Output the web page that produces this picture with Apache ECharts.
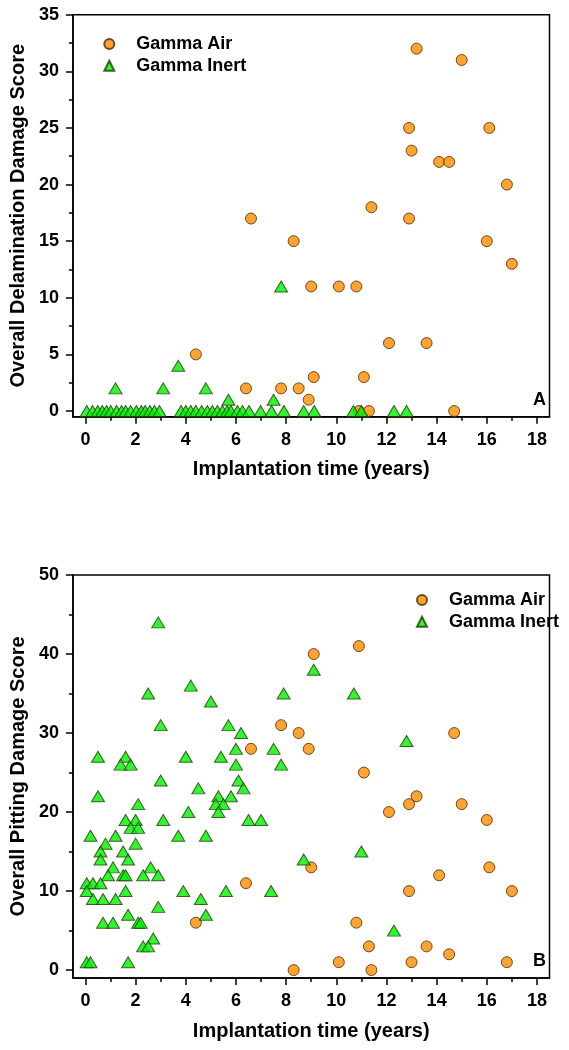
<!DOCTYPE html>
<html><head><meta charset="utf-8">
<script src="https://cdn.jsdelivr.net/npm/echarts@6/dist/echarts.min.js"></script>
<style>html,body{margin:0;padding:0;background:#fff}#c{width:569px;height:1050px}</style>
</head><body><div id="c"></div>
<script>
// ---- tick labels ----
const xTicks = [0, 2, 4, 6, 8, 10, 12, 14, 16, 18];
const xMinorTicks = [1, 3, 5, 7, 9, 11, 13, 15, 17];
const yTicksA = [0, 5, 10, 15, 20, 25, 30, 35];
const yMinorA = [2.5, 7.5, 12.5, 17.5, 22.5, 27.5, 32.5];
const yTicksB = [0, 10, 20, 30, 40, 50];
const yMinorB = [5, 15, 25, 35, 45];
const seriesNames = ['Gamma Air', 'Gamma Inert'];

// ---- Panel A: Overall Delamination Damage Score ----
const delamAir = [
  [4.4,5],[6.4,2],[6.6,17],[7.8,2],[8.3,15],[8.5,2],[8.9,1],[9.0,11],[9.1,3],
  [10.1,11],[10.8,11],[10.9,0],[11.1,3],[11.3,0],[11.4,18],[12.1,6],[12.9,17],
  [12.9,25],[13.0,23],[13.2,32],[13.6,6],[14.1,22],[14.5,22],[14.7,0],[15.0,31],
  [16.0,15],[16.1,25],[16.8,20],[17.0,13]
];
const delamInert = [
  [0.05,0],[0.28,0],[0.49,0],[0.67,0],[0.84,0],[1.01,0],[1.24,0],[1.44,0],[1.6,0],
  [1.8,0],[2.03,0],[2.23,0],[2.38,0],[2.57,0],[2.75,0],[2.95,0],
  [3.81,0],[4.0,0],[4.2,0],[4.4,0],[4.63,0],[4.86,0],[5.06,0],[5.26,0],[5.46,0],
  [5.65,0],[5.8,0],[6.06,0],[6.26,0],[6.52,0],[6.98,0],[7.42,0],[7.91,0],[8.7,0],
  [9.12,0],[10.68,0],[11.0,0],[12.3,0],[12.8,0],
  [1.2,2],[3.1,2],[3.7,4],[4.8,2],[5.7,1],[7.5,1],[7.8,11]
];

// ---- Panel B: Overall Pitting Damage Score ----
const pitAir = [
  [9.1,40],[10.9,41],[7.8,31],[8.5,30],[14.7,30],[6.6,28],[8.9,28],[11.1,25],
  [13.2,22],[12.9,21],[15.0,21],[12.1,20],[16.0,19],[9.0,13],[16.1,13],[14.1,12],
  [6.4,11],[12.9,10],[17.0,10],[4.4,6],[10.8,6],[11.3,3],[13.6,3],[14.5,2],
  [10.1,1],[13.0,1],[16.8,1],[8.3,0],[11.4,0]
];
const pitInert = [
  [2.9,44],[4.2,36],[2.5,35],[5.0,34],[7.9,35],[9.1,38],[10.7,35],[3.0,31],[5.7,31],
  [6.2,30],[12.8,29],[0.5,27],[1.6,27],[1.4,26],[1.8,26],[4.0,27],[5.4,27],[6.0,28],
  [7.5,28],[6.0,26],[7.8,26],[3.0,24],[6.1,24],[4.5,23],[6.3,23],[0.5,22],[5.3,22],
  [5.8,22],[2.1,21],[5.2,21],[5.5,21],[4.1,20],[5.3,20],[1.6,19],[2.0,19],[3.1,19],
  [6.5,19],[7.0,19],[1.8,18],[2.1,18],[0.2,17],[1.2,17],[3.7,17],[4.8,17],[0.8,16],
  [2.0,16],[0.6,15],[1.5,15],[11.0,15],[0.6,14],[1.7,14],[8.7,14],[1.1,13],[2.6,13],
  [0.9,12],[1.5,12],[1.6,12],[2.3,12],[2.9,12],[0.05,11],[0.3,11],[0.6,11],[0.05,10],
  [1.6,10],[3.9,10],[5.6,10],[7.4,10],[0.3,9],[0.7,9],[1.2,9],[4.6,9],[2.9,8],[1.7,7],
  [4.8,7],[0.7,6],[1.1,6],[2.1,6],[2.2,6],[2.7,4],[2.3,3],[2.5,3],[12.3,5],[0.05,1],
  [0.2,1],[1.7,1]
];

const FONT = "'Liberation Sans', Arial, sans-serif";
const XMIN = -0.5, XMAX = 18.5;

function xAxes(gridIndex) {
  return [
    { type: 'value', gridIndex, min: XMIN, max: XMAX, position: 'bottom',
      axisLine: { show: true, onZero: false, lineStyle: { color: '#000', width: 1.5 } },
      axisTick: { show: true, length: 7, customValues: xTicks, lineStyle: { color: '#000', width: 1.5 } },
      axisLabel: { customValues: xTicks, margin: 14, fontSize: 18, fontWeight: 'bold', color: '#000', fontFamily: FONT },
      splitLine: { show: false },
      name: 'Implantation time (years)', nameLocation: 'middle', nameGap: 43,
      nameTextStyle: { fontSize: 20, fontWeight: 'bold', color: '#000', fontFamily: FONT } },
    { type: 'value', gridIndex, min: XMIN, max: XMAX, position: 'bottom',
      axisLine: { show: false, onZero: false },
      axisTick: { show: true, length: 4, customValues: xMinorTicks, lineStyle: { color: '#000', width: 1.5 } },
      axisLabel: { show: false }, splitLine: { show: false } }
  ];
}
function yAxes(gridIndex, min, max, ticks, minor, name) {
  return [
    { type: 'value', gridIndex, min, max, position: 'left',
      axisLine: { show: true, onZero: false, lineStyle: { color: '#000', width: 1.5 } },
      axisTick: { show: true, length: 7, customValues: ticks, lineStyle: { color: '#000', width: 1.5 } },
      axisLabel: { customValues: ticks, margin: 14, fontSize: 18, fontWeight: 'bold', color: '#000', fontFamily: FONT },
      splitLine: { show: false },
      name, nameLocation: 'middle', nameGap: 44,
      nameTextStyle: { fontSize: 20, fontWeight: 'bold', color: '#000', fontFamily: FONT } },
    { type: 'value', gridIndex, min, max, position: 'left',
      axisLine: { show: false, onZero: false },
      axisTick: { show: true, length: 4, customValues: minor, lineStyle: { color: '#000', width: 1.5 } },
      axisLabel: { show: false }, splitLine: { show: false } }
  ];
}

const airStyle = { color: '#FF8C00', borderColor: '#4a2a00', borderWidth: 1 };
const inertStyle = { color: '#00F000', borderColor: '#1f3f00', borderWidth: 1 };

function airSeries(data, xi, yi) {
  return { name: seriesNames[0], type: 'scatter', xAxisIndex: xi, yAxisIndex: yi, data,
    symbol: 'circle', symbolSize: 11, itemStyle: airStyle, z: 2 };
}
function inertSeries(data, xi, yi) {
  return { name: seriesNames[1], type: 'scatter', xAxisIndex: xi, yAxisIndex: yi, data,
    symbol: 'triangle', symbolSize: [13, 11], itemStyle: inertStyle, z: 3 };
}

const legendText = { fontSize: 18, fontWeight: 'bold', color: '#000', fontFamily: FONT, lineHeight: 18, padding: [0, 0, 0, 17] };

const option = {
  animation: false,
  backgroundColor: '#fff',
  grid: [
    { left: 69, top: 14.7, width: 480.5, height: 402, show: true, borderColor: '#000', borderWidth: 1.5, containLabel: false },
    { left: 69, top: 575, width: 480.5, height: 403, show: true, borderColor: '#000', borderWidth: 1.5, containLabel: false }
  ],
  xAxis: [...xAxes(0), ...xAxes(1)],
  yAxis: [
    ...yAxes(0, -0.5, 35, yTicksA, yMinorA, 'Overall Delamination Damage Score'),
    ...yAxes(1, -1, 50, yTicksB, yMinorB, 'Overall Pitting Damage Score')
  ],
  legend: [
    { data: seriesNames, left: 98.3, top: 30, orient: 'vertical', itemWidth: 10, itemHeight: 10, itemGap: 3.7,
      textStyle: legendText, selectedMode: false },
    { data: seriesNames, left: 411, top: 586, orient: 'vertical', itemWidth: 10, itemHeight: 10, itemGap: 3.7,
      textStyle: legendText, selectedMode: false }
  ],
  series: [
    airSeries(delamAir, 0, 0),
    inertSeries(delamInert, 0, 0),
    airSeries(pitAir, 2, 2),
    inertSeries(pitInert, 2, 2)
  ],
  graphic: [
    { type: 'text', left: 533, top: 391, style: { text: 'A', fontSize: 18, fontWeight: 'bold', fill: '#000', fontFamily: FONT } },
    { type: 'text', left: 533, top: 952, style: { text: 'B', fontSize: 18, fontWeight: 'bold', fill: '#000', fontFamily: FONT } }
  ]
};

const chart = echarts.init(document.getElementById('c'), null, { renderer: 'canvas' });
chart.setOption(option);
</script>
</body></html>
